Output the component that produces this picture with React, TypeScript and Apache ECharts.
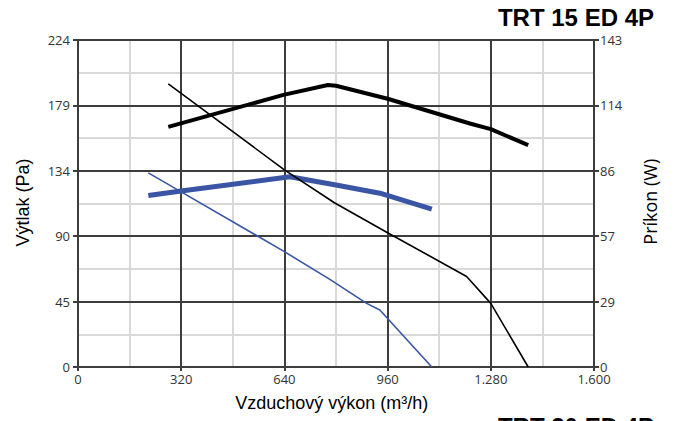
import React, { useEffect, useRef } from "react";
import * as echarts from "echarts";

// Tick labels
const xTickLabels = ["0", "320", "640", "960", "1.280", "1.600"];
const leftTickLabels = ["0", "45", "90", "134", "179", "224"];
const rightTickLabels = ["0", "29", "57", "86", "114", "143"];

// Pressure curve (thin black), m3/h -> Pa
const pressureBlackFlow = [280, 640, 795, 960, 1205, 1280, 1396];
const pressureBlack = [194, 135, 112.5, 92, 62, 43.6, 0];

// Power curve (thick black), m3/h -> W
const powerBlackFlow = [280, 637, 775, 800, 960, 1215, 1280, 1396];
const powerBlack = [105, 119, 123.3, 123, 117.3, 106.5, 104, 97];

// Pressure curve (thin blue), m3/h -> Pa
const pressureBlueFlow = [218, 320, 640, 781, 895, 936, 1097];
const pressureBlue = [133, 120, 79, 60, 43.6, 39, 0];

// Power curve (thick blue), m3/h -> W
const powerBlueFlow = [218, 320, 657, 800, 936, 1097];
const powerBlue = [75, 77, 83.2, 79.6, 76, 69];

const pairs = (xs: number[], ys: number[]) => xs.map((x, i) => [x, ys[i]]);

const DARK = "#3d3d3d";
const LIGHT = "#d9d9d9";
const BLUE = "#3a55a4";

export default function App() {
  const ref = useRef<HTMLDivElement>(null);
  useEffect(() => {
    const chart = echarts.init(ref.current!, null, { renderer: "svg" });
    const tickLabelStyle = {
      fontFamily: "'Open Sans', sans-serif",
      fontSize: 13,
      color: "#333",
    };
    chart.setOption({
      animation: false,
      backgroundColor: "#ffffff",
      grid: { left: 78, right: 81, top: 40, bottom: 54, containLabel: false },
      xAxis: [
        {
          type: "value",
          min: 0,
          max: 1600,
          interval: 320,
          position: "bottom",
          z: 1,
          axisLine: { show: true, onZero: false, lineStyle: { color: DARK, width: 2 } },
          axisTick: { show: true, length: 4, lineStyle: { color: DARK, width: 2 } },
          axisLabel: {
            ...tickLabelStyle,
            margin: 5,
            formatter: (v: number) => xTickLabels[Math.round(v / 320)] ?? "",
          },
          splitLine: { show: true, lineStyle: { color: DARK, width: 2 } },
        },
        {
          type: "value",
          min: 0,
          max: 1600,
          interval: 160,
          position: "top",
          z: 0,
          axisLine: { show: false },
          axisTick: { show: false },
          axisLabel: { show: false },
          splitLine: { show: true, lineStyle: { color: LIGHT, width: 2 } },
        },
      ],
      yAxis: [
        {
          type: "value",
          min: 0,
          max: 224,
          interval: 44.8,
          position: "left",
          z: 1,
          axisLine: { show: true, onZero: false, lineStyle: { color: DARK, width: 2 } },
          axisTick: { show: true, length: 5, lineStyle: { color: DARK, width: 2 } },
          axisLabel: {
            ...tickLabelStyle,
            margin: 8,
            formatter: (v: number) => leftTickLabels[Math.round(v / 44.8)] ?? "",
          },
          splitLine: { show: true, lineStyle: { color: DARK, width: 2 } },
        },
        {
          type: "value",
          min: 0,
          max: 143,
          interval: 28.6,
          position: "right",
          z: 1,
          axisLine: { show: true, onZero: false, lineStyle: { color: DARK, width: 2 } },
          axisTick: { show: true, length: 5, lineStyle: { color: DARK, width: 2 } },
          axisLabel: {
            ...tickLabelStyle,
            margin: 6,
            formatter: (v: number) => rightTickLabels[Math.round(v / 28.6)] ?? "",
          },
          splitLine: { show: false },
        },
        {
          type: "value",
          min: 0,
          max: 224,
          interval: 22.4,
          position: "left",
          z: 0,
          axisLine: { show: false },
          axisTick: { show: false },
          axisLabel: { show: false },
          splitLine: { show: true, lineStyle: { color: LIGHT, width: 2 } },
        },
      ],
      series: [
        {
          name: "Príkon TRT 15",
          type: "line",
          xAxisIndex: 0,
          yAxisIndex: 1,
          data: pairs(powerBlackFlow, powerBlack),
          symbol: "none",
          z: 3,
          lineStyle: { color: "#000", width: 4, join: "round" },
        },
        {
          name: "Príkon TRT 20",
          type: "line",
          xAxisIndex: 0,
          yAxisIndex: 1,
          data: pairs(powerBlueFlow, powerBlue),
          symbol: "none",
          z: 3,
          lineStyle: { color: BLUE, width: 5, join: "round" },
        },
        {
          name: "Výtlak TRT 15",
          type: "line",
          xAxisIndex: 0,
          yAxisIndex: 0,
          data: pairs(pressureBlackFlow, pressureBlack),
          symbol: "none",
          z: 4,
          lineStyle: { color: "#000", width: 1.6, join: "round" },
        },
        {
          name: "Výtlak TRT 20",
          type: "line",
          xAxisIndex: 0,
          yAxisIndex: 0,
          data: pairs(pressureBlueFlow, pressureBlue),
          symbol: "none",
          z: 4,
          lineStyle: { color: BLUE, width: 1.6, join: "round" },
        },
      ],
      graphic: [
        {
          type: "text",
          x: 654,
          y: 17.5,
          style: {
            text: "TRT 15 ED 4P",
            align: "right",
            verticalAlign: "middle",
            fontFamily: "'Liberation Sans', Arial, sans-serif",
            fontWeight: "bold",
            fontSize: 24,
            fill: "#000",
          },
        },
        {
          type: "text",
          x: 654,
          y: 426,
          style: {
            text: "TRT 20 ED 4P",
            align: "right",
            verticalAlign: "middle",
            fontFamily: "'Liberation Sans', Arial, sans-serif",
            fontWeight: "bold",
            fontSize: 24,
            fill: "#000",
          },
        },
        {
          type: "text",
          x: 22.5,
          y: 202.5,
          rotation: Math.PI / 2,
          style: {
            text: "Výtlak (Pa)",
            align: "center",
            verticalAlign: "middle",
            fontFamily: "'Liberation Sans', Arial, sans-serif",
            fontSize: 18,
            fill: "#000",
          },
        },
        {
          type: "text",
          x: 649.5,
          y: 201.7,
          rotation: Math.PI / 2,
          style: {
            text: "Príkon (W)",
            align: "center",
            verticalAlign: "middle",
            fontFamily: "'Open Sans', sans-serif",
            fontSize: 18,
            fill: "#000",
          },
        },
        {
          type: "text",
          x: 331.7,
          y: 403.3,
          style: {
            text: "Vzduchový výkon (m³/h)",
            align: "center",
            verticalAlign: "middle",
            fontFamily: "'Liberation Sans', Arial, sans-serif",
            fontSize: 18,
            fill: "#000",
          },
        },
      ],
    });
    return () => chart.dispose();
  }, []);
  return (
    <div
      ref={ref}
      style={{ position: "fixed", left: 0, top: 0, width: 675, height: 421 }}
    />
  );
}
